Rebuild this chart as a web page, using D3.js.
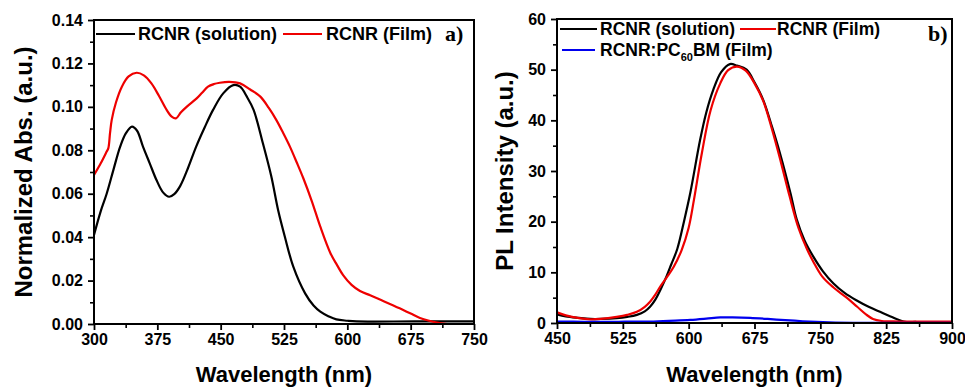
<!DOCTYPE html>
<html><head><meta charset="utf-8">
<script src="https://cdn.jsdelivr.net/npm/d3@7"></script>
<style>
body{margin:0;background:#fff;}
svg text{font-family:"Liberation Sans",Arial,sans-serif;font-weight:bold;fill:#000;}
</style></head>
<body><svg id="c" width="965" height="387"></svg>
<script>
// ---------- Panel a data: absorption ----------
const absSolX = [300,308,315,323,331,338,345,351,358,366,374,382,389,395,402,411,421,431,441,453,465,473,481,489,500,510,518,526,536,550,560,568,578,587,600,611,680,750];
const absSolY = [0.041,0.052,0.060,0.071,0.0817,0.088,0.0909,0.089,0.0817,0.074,0.0663,0.0605,0.0586,0.0598,0.0635,0.0715,0.0817,0.0905,0.0986,0.1062,0.110,0.1093,0.1047,0.0986,0.0832,0.0679,0.0525,0.0402,0.0264,0.0141,0.0085,0.0057,0.0035,0.0021,0.0015,0.0012,0.0012,0.0012];
const absFilmX = [300,308,315,317,319,321,326,333,341,350.5,359,368,377,386,392,397,403,410,421.6,428,435,442,449,460,473,485,497,507,516,524,532,540,548,558,568,580,588,595,605,615,627,640,662,675,686,697,706,718];
const absFilmY = [0.0686,0.074,0.0794,0.081,0.088,0.094,0.102,0.1093,0.114,0.1157,0.1145,0.1108,0.105,0.0986,0.0955,0.0947,0.0975,0.1001,0.1039,0.1065,0.1093,0.1105,0.1111,0.1115,0.1108,0.108,0.1047,0.0995,0.0939,0.088,0.0817,0.0745,0.067,0.0565,0.0448,0.0326,0.027,0.0225,0.018,0.0152,0.0132,0.011,0.0072,0.0048,0.0028,0.0015,0.0007,0.0];
const aXTicks = [300,375,450,525,600,675,750];
const aYTicks = [0,0.02,0.04,0.06,0.08,0.10,0.12,0.14];

// ---------- Panel b data: photoluminescence ----------
const plSolX = [450,460,475,488,500,518,530,541,550,556,562,568,575,580,587,595,602,613,620,628,637,647,655,666,675,685,695,704,716,723,732,742,753,765,778,792,805,818,830,845,860,900];
const plSolY = [1.7,1.3,1.0,0.8,0.8,0.95,1.2,1.6,2.3,3.2,4.6,6.6,9.3,11.5,14.6,20.3,25.8,36.1,41.5,46.0,49.5,51.1,50.8,50.0,47.5,44.0,38.7,33.5,25.6,20.5,16.3,13.1,10.2,7.8,5.9,4.4,3.2,2.2,1.3,0.3,0.2,0.2];
const plFilmX = [450,460,475,488,500,518,530,541,550,556,562,568,575,583,592,600,606,615,625,636,645,655,665,675,685,695,705,715,725,735,742,752,765,780,792,802,810,820,840,900];
const plFilmY = [2.1,1.5,0.95,0.72,0.8,1.2,1.6,2.2,3.2,4.2,5.6,7.3,9.0,11.1,14.4,18.8,24.3,33.5,42.0,47.3,49.9,50.6,49.8,47.3,43.8,38.2,31.8,25.0,18.8,14.5,12.1,9.2,7.0,5.0,3.2,1.7,0.8,0.4,0.3,0.3];
const plBlendX = [450,480,520,560,585,602,620,636,650,670,690,710,730,760,800,850,900];
const plBlendY = [0.3,0.25,0.25,0.3,0.45,0.6,0.85,1.1,1.1,1.0,0.8,0.55,0.35,0.15,0.05,0.02,0.02];
const bXTicks = [450,525,600,675,750,825,900];
const bYTicks = [0,10,20,30,40,50,60];

const RED = "#ee0000", BLUE = "#0000ee", BLACK = "#000";

const svg = d3.select("#c");

function zip(xs, ys){ return xs.map((x,i)=>[x,ys[i]]); }

function panel(o){
  const g = svg.append("g");
  const x = d3.scaleLinear().domain(o.xDom).range([o.L,o.R]);
  const y = d3.scaleLinear().domain(o.yDom).range([o.B,o.T]);
  const xMinor = o.xTicks.slice(0,-1).map((t,i)=>(t+o.xTicks[i+1])/2);
  const yMinor = o.yTicks.slice(0,-1).map((t,i)=>(t+o.yTicks[i+1])/2);
  g.append("g").attr("transform",`translate(0,${o.B})`)
    .call(d3.axisBottom(x).tickValues(xMinor).tickSize(4).tickFormat(""))
    .call(s=>{s.select(".domain").remove(); s.selectAll("line").attr("stroke-width",1.6);});
  g.append("g").attr("transform",`translate(${o.L},0)`)
    .call(d3.axisLeft(y).tickValues(yMinor).tickSize(4).tickFormat(""))
    .call(s=>{s.select(".domain").remove(); s.selectAll("line").attr("stroke-width",1.6);});
  g.append("g").attr("transform",`translate(0,${o.B})`)
    .call(d3.axisBottom(x).tickValues(o.xTicks).tickSize(6).tickPadding(4).tickFormat(d3.format("d")))
    .call(s=>{s.select(".domain").remove(); s.selectAll("line").attr("stroke-width",1.8);
      s.selectAll("text").attr("font-size",16).attr("font-family","Liberation Sans, Arial, sans-serif").attr("font-weight","bold").attr("fill","#000");});
  g.append("g").attr("transform",`translate(${o.L},0)`)
    .call(d3.axisLeft(y).tickValues(o.yTicks).tickSize(6).tickPadding(5).tickFormat(o.yFmt))
    .call(s=>{s.select(".domain").remove(); s.selectAll("line").attr("stroke-width",1.8);
      s.selectAll("text").attr("font-size",16).attr("font-family","Liberation Sans, Arial, sans-serif").attr("font-weight","bold").attr("fill","#000");});
  const line = d3.line().x(d=>x(d[0])).y(d=>y(d[1])).curve(d3.curveCatmullRom.alpha(0.5));
  o.series.forEach(s=>{
    g.append("path").datum(s.data).attr("d",line).attr("fill","none")
      .attr("stroke",s.color).attr("stroke-width",2.2).attr("stroke-linejoin","round");
  });
  g.append("rect").attr("x",o.L).attr("y",o.T).attr("width",o.R-o.L).attr("height",o.B-o.T)
    .attr("fill","none").attr("stroke","#000").attr("stroke-width",2);
  g.append("text").attr("x",(o.L+o.R)/2).attr("y",382).attr("text-anchor","middle")
    .attr("font-size",22).text("Wavelength (nm)");
  g.append("text").attr("transform",`translate(${o.yTitleX},${(o.T+o.B)/2}) rotate(-90)`)
    .attr("text-anchor","middle").attr("font-size",o.yTitleSize).text(o.yTitle);
  return {g,x,y};
}

panel({L:94,R:474,T:20,B:324,xDom:[300,750],yDom:[0,0.14],
  xTicks:aXTicks,yTicks:aYTicks,yFmt:d3.format(".2f"),
  yTitle:"Normalized Abs. (a.u.)",yTitleX:32,yTitleSize:24,
  series:[{data:zip(absSolX,absSolY),color:BLACK},{data:zip(absFilmX,absFilmY),color:RED}]});

panel({L:557,R:952,T:19,B:323,xDom:[450,900],yDom:[0,60],
  xTicks:bXTicks,yTicks:bYTicks,yFmt:d3.format("d"),
  yTitle:"PL Intensity (a.u.)",yTitleX:513,yTitleSize:24,
  series:[{data:zip(plSolX,plSolY),color:BLACK},{data:zip(plFilmX,plFilmY),color:RED},{data:zip(plBlendX,plBlendY),color:BLUE}]});

function legItem(x1,x2,y,color,tx,label,fs){
  svg.append("line").attr("x1",x1).attr("x2",x2).attr("y1",y).attr("y2",y)
    .attr("stroke",color).attr("stroke-width",2.2);
  return svg.append("text").attr("x",tx).attr("y",y+6).attr("font-size",fs).text(label);
}
legItem(96,135,34,BLACK,138,"RCNR (solution)",18);
legItem(283,322,34,RED,326,"RCNR (Film)",18);
svg.append("text").attr("x",445).attr("y",41).attr("font-size",22)
  .style("font-family","Liberation Serif, Times New Roman, serif").text("a)");

legItem(560,597,29,BLACK,600,"RCNR (solution)",17.5);
legItem(740,776,29,RED,777,"RCNR (Film)",17.5);
const t3 = legItem(562,595,50,BLUE,600,"RCNR:PC",17.5);
t3.append("tspan").attr("font-size",11).attr("dy",5).text("60");
t3.append("tspan").attr("dy",-5).text("BM (Film)");
svg.append("text").attr("x",928).attr("y",41).attr("font-size",22)
  .style("font-family","Liberation Serif, Times New Roman, serif").text("b)");
</script></body></html>
